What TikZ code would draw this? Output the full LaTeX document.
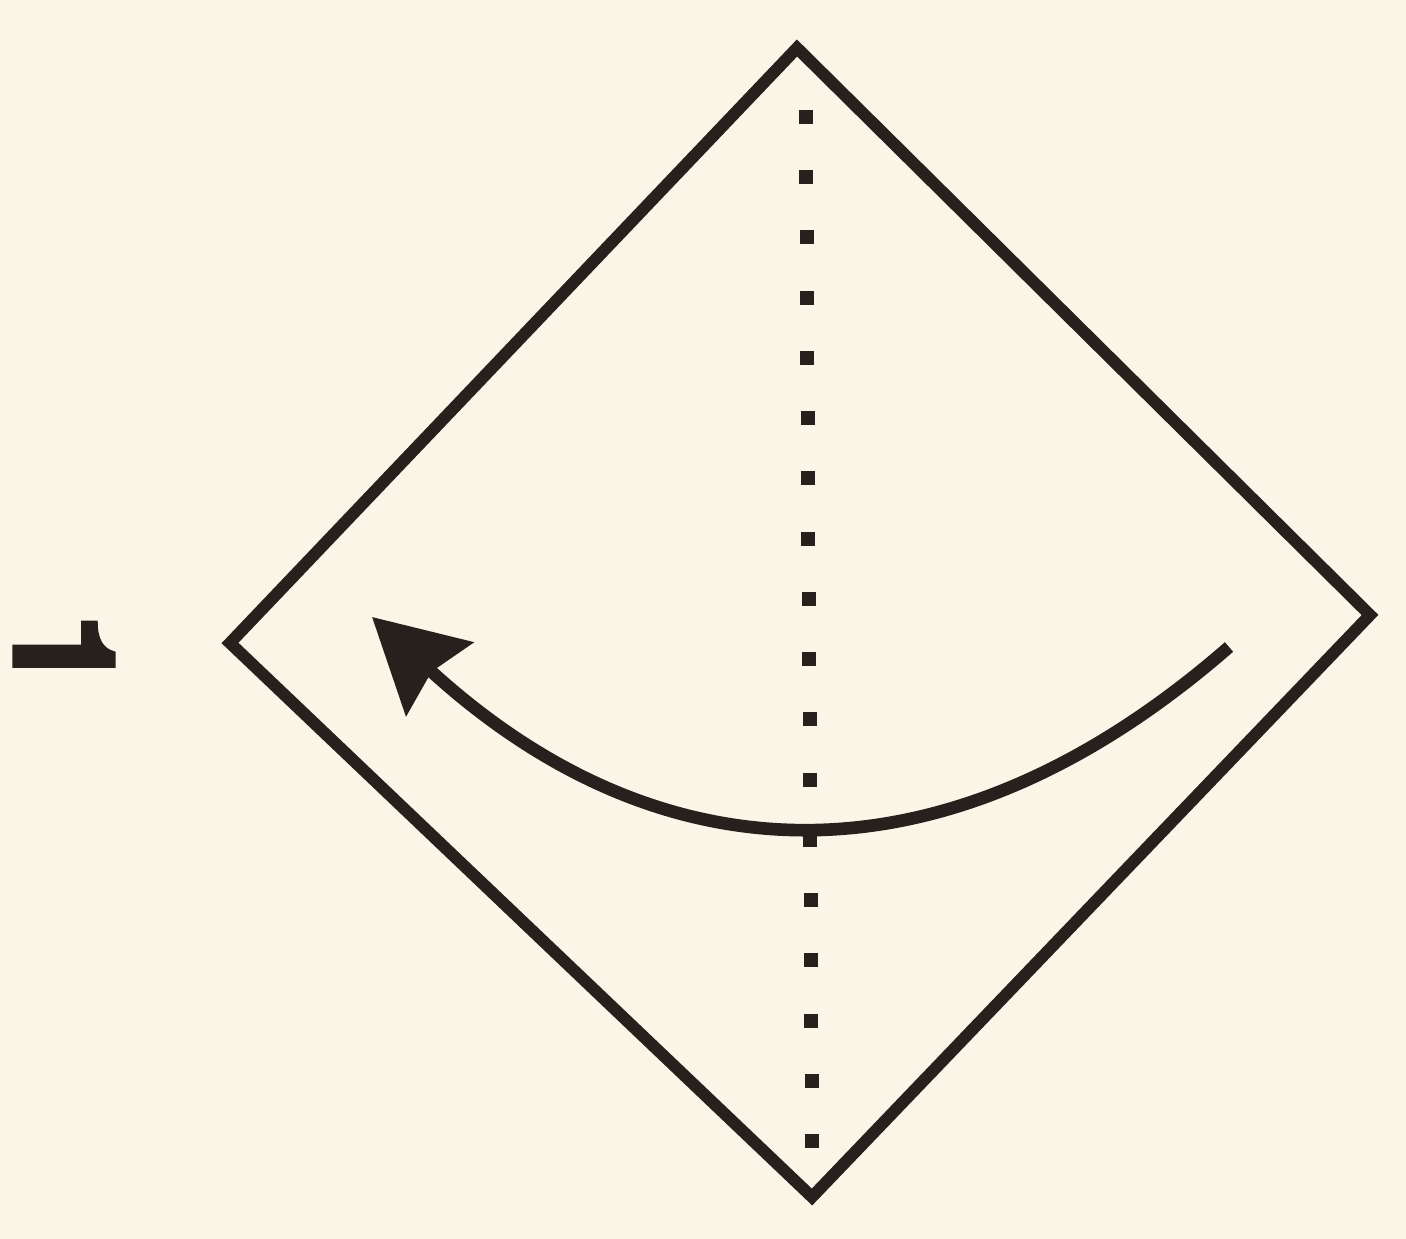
\documentclass[tikz,border=0pt]{standalone}
\usepackage{fontspec}
\newfontfamily\stepfont[BoldFeatures={FakeBold=2.5}]{TeX Gyre Heros}
\usepackage{tikz}
\usetikzlibrary{arrows.meta}
\definecolor{paper}{RGB}{249,245,231}
\definecolor{ink}{RGB}{38,33,29}

\begin{document}
\begin{tikzpicture}[x=1cm, y=1cm,
  edge/.style={ink, line width=3.4pt, line join=miter},
  foldarrow/.style={ink, line width=3.6pt, -{Stealth[length=26pt, width=28pt, inset=3pt]}},
  stepnum/.style={ink, font=\stepfont\bfseries\fontsize{40}{40}\selectfont, inner sep=0pt, rotate=-90}]
  \fill[paper] (0,0) rectangle (14.06,12.39);
  \useasboundingbox (0,0) rectangle (14.06,12.39);

  \coordinate (top) at (7.97,11.91);
  \coordinate (right) at (13.70,6.24);
  \coordinate (bottom) at (8.12,0.42);
  \coordinate (left) at (2.30,5.96);
  \draw[edge] (top) -- (right) -- (bottom) -- (left) -- cycle;

  \foreach \i in {0,...,17}
  {
    \fill[ink] ({8.06+\i*0.06/17-0.07},{11.22-\i*0.6024-0.07}) rectangle ++(0.14,0.14);
  }

  \coordinate (start) at (12.29,5.92);
  \coordinate (tip) at (3.72,6.22);
  \draw[foldarrow] (start) .. controls (9.47,3.46) and (6.61,3.57) .. (tip);

  \node[stepnum] (num) at (0.64,5.87) {1};
\end{tikzpicture}
\end{document}
